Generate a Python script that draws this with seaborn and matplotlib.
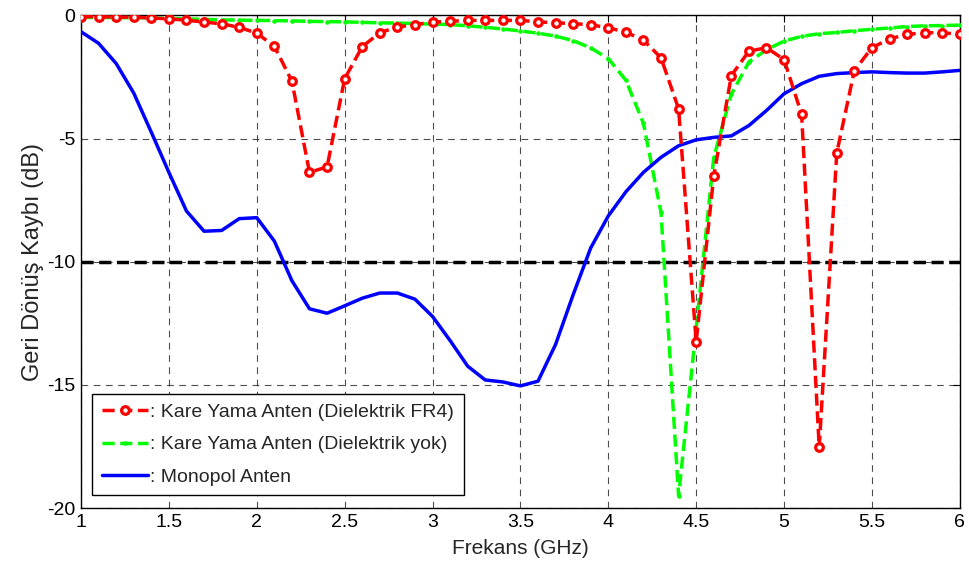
import numpy as np
import pandas as pd
import seaborn as sns
import matplotlib
matplotlib.use("Agg")
import matplotlib.pyplot as plt

# Frequency axis (GHz), 0.1 GHz step
freq = np.round(np.arange(1.0, 6.01, 0.1), 1)

# Kare Yama Anten (Dielektrik FR4)
s11_fr4 = [-0.05, -0.05, -0.07, -0.07, -0.10, -0.14, -0.19, -0.27, -0.34, -0.48,
           -0.72, -1.25, -2.67, -6.37, -6.15, -2.57, -1.27, -0.70, -0.47, -0.37,
           -0.27, -0.24, -0.20, -0.20, -0.20, -0.20, -0.26, -0.30, -0.33, -0.38,
           -0.50, -0.68, -1.00, -1.72, -3.79, -13.24, -6.53, -2.44, -1.45, -1.31,
           -1.79, -4.02, -17.53, -5.58, -2.24, -1.31, -0.95, -0.77, -0.70, -0.70,
           -0.77]

# Kare Yama Anten (Dielektrik yok)
s11_air = [-0.08, -0.08, -0.09, -0.09, -0.10, -0.12, -0.14, -0.16, -0.18, -0.19,
           -0.20, -0.21, -0.22, -0.24, -0.25, -0.26, -0.28, -0.30, -0.31, -0.33,
           -0.35, -0.37, -0.42, -0.48, -0.55, -0.63, -0.72, -0.84, -1.02, -1.32,
           -1.75, -2.63, -4.38, -8.00, -19.50, -12.70, -5.76, -3.20, -1.89, -1.39,
           -1.04, -0.85, -0.74, -0.69, -0.62, -0.56, -0.51, -0.45, -0.42, -0.41,
           -0.39]

# Monopol Anten
s11_mono = [-0.66, -1.13, -1.95, -3.15, -4.74, -6.37, -7.94, -8.76, -8.73, -8.25,
            -8.21, -9.16, -10.77, -11.91, -12.09, -11.79, -11.48, -11.27, -11.27, -11.52,
            -12.22, -13.20, -14.24, -14.80, -14.88, -15.04, -14.85, -13.36, -11.34, -9.44,
            -8.14, -7.16, -6.37, -5.76, -5.29, -5.05, -4.95, -4.89, -4.47, -3.86,
            -3.18, -2.77, -2.47, -2.36, -2.32, -2.29, -2.32, -2.34, -2.34, -2.29,
            -2.23]

threshold = -10

df = pd.DataFrame({"f": freq, "fr4": s11_fr4, "air": s11_air, "mono": s11_mono})

sns.set_style("white")
plt.rcParams["font.family"] = ["Liberation Sans", "DejaVu Sans"]

fig = plt.figure(figsize=(9.7, 5.62), dpi=100)
ax = fig.add_axes([0.0835, 0.096, 0.906, 0.8765])

dash = (0, (3.5, 1.6))
sns.lineplot(data=df, x="f", y="fr4", ax=ax, color="#ff0000", linestyle=dash,
             linewidth=2.5, marker="o", markersize=5.5, markerfacecolor="white",
             markeredgecolor="#ff0000", markeredgewidth=2.3,
             label=": Kare Yama Anten (Dielektrik FR4)", zorder=4)
sns.lineplot(data=df, x="f", y="air", ax=ax, color="#00ff00", linestyle=dash,
             linewidth=2.5, marker=".", markersize=5, markeredgecolor="#00ff00",
             label=": Kare Yama Anten (Dielektrik yok)", zorder=3)
sns.lineplot(data=df, x="f", y="mono", ax=ax, color="#0000ff", linewidth=2.5,
             label=": Monopol Anten", zorder=3)

ax.axhline(threshold, color="black", linewidth=2.5, linestyle=dash, zorder=2)

ax.set_xlim(1, 6)
ax.set_ylim(-20, 0)
ax.set_xticks(np.arange(1, 6.01, 0.5))
ax.set_xticklabels(["1", "1.5", "2", "2.5", "3", "3.5", "4", "4.5", "5", "5.5", "6"])
ax.set_yticks([-20, -15, -10, -5, 0])
ax.set_yticklabels(["-20", "-15", "-10", "-5", "0"])
ax.grid(True, color="#222222", linestyle=(0, (6, 5)), linewidth=0.8, alpha=0.8)
ax.tick_params(direction="in", top=True, right=True, length=5, width=0.8,
               labelsize=14, colors="black", pad=4)
for s in ax.spines.values():
    s.set_color("black")
    s.set_linewidth(1.0)

ax.set_xlabel("Frekans (GHz)", fontsize=15, labelpad=6)
ax.set_ylabel("Geri Dönüş Kaybı (dB)", fontsize=17, labelpad=2)

leg = ax.legend(loc="lower left", bbox_to_anchor=(0.0125, 0.026), fontsize=14,
                frameon=True, fancybox=False, edgecolor="black", framealpha=1,
                handlelength=2.4, handletextpad=0.1, borderpad=0.5, labelspacing=0.75,
                borderaxespad=0)
leg.get_frame().set_linewidth(1.0)

fig.savefig("out.png", dpi=100)
